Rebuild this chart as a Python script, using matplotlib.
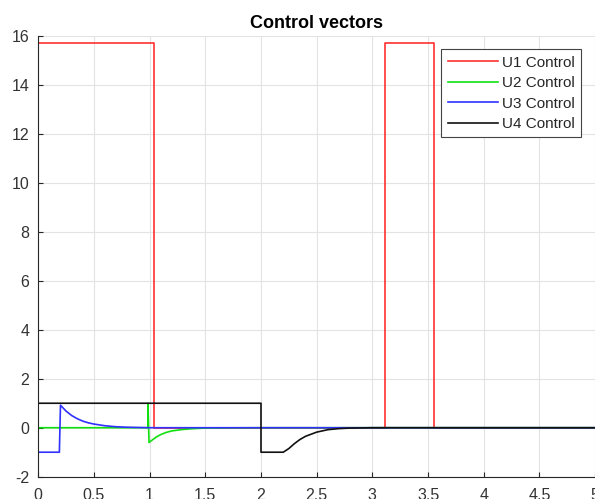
import matplotlib
matplotlib.use("Agg")
import matplotlib.pyplot as plt

plt.rcParams['font.family'] = ['Liberation Sans', 'DejaVu Sans']
plt.rcParams['axes.unicode_minus'] = False

# values
t_u1 = [0, 1.04, 1.04, 3.11, 3.11, 3.55, 3.55, 5]
u1 = [15.7, 15.7, 0, 0, 15.7, 15.7, 0, 0]

t_u2 = [0, 0.985, 0.985, 0.995, 1.03, 1.06, 1.1, 1.15, 1.2, 1.3, 1.4, 1.5, 1.7, 2.0, 5]
u2 = [0, 0, 1, -0.6, -0.48, -0.38, -0.28, -0.19, -0.13, -0.07, -0.035, -0.015, -0.005, 0, 0]

t_u3 = [0, 0.19, 0.2, 0.25, 0.3, 0.35, 0.4, 0.45, 0.5, 0.6, 0.7, 0.8, 0.9, 1.0, 5]
u3 = [-1, -1, 0.92, 0.68, 0.5, 0.37, 0.27, 0.2, 0.15, 0.08, 0.04, 0.02, 0.01, 0, 0]

t_u4 = [0, 2.0, 2.0, 2.2, 2.25, 2.3, 2.35, 2.4, 2.5, 2.6, 2.7, 2.8, 3.0, 5]
u4 = [1, 1, -1, -1, -0.85, -0.65, -0.48, -0.35, -0.18, -0.08, -0.035, -0.015, 0, 0]

labels = ['U1 Control', 'U2 Control', 'U3 Control', 'U4 Control']
xticks = [0, 0.5, 1, 1.5, 2, 2.5, 3, 3.5, 4, 4.5, 5]
yticks = [-2, 0, 2, 4, 6, 8, 10, 12, 14, 16]

dark = '#262626'

fig = plt.figure(figsize=(5.95, 4.99), dpi=100)
ax = fig.add_axes([0.0642, 0.0447, 0.9361, 0.8832])

ax.plot(t_u1, u1, color='#ff3030', lw=1.2, label=labels[0])
ax.plot(t_u2, u2, color='#10e010', lw=1.2, label=labels[1])
ax.plot(t_u3, u3, color='#3030ff', lw=1.2, label=labels[2])
ax.plot(t_u4, u4, color='#111111', lw=1.2, label=labels[3])

ax.set_xlim(0, 5)
ax.set_ylim(-2, 16)
ax.set_xticks(xticks)
ax.set_xticklabels(['0', '0.5', '1', '1.5', '2', '2.5', '3', '3.5', '4', '4.5', '5'])
ax.set_yticks(yticks)
ax.grid(True, color='#e3e3e3', lw=0.8)
ax.set_axisbelow(True)

for s in ['top', 'right']:
    ax.spines[s].set_visible(False)
for s in ['left', 'bottom']:
    ax.spines[s].set_color(dark)
    ax.spines[s].set_linewidth(0.8)

ax.tick_params(direction='in', length=3.6, width=0.8, color=dark,
               labelcolor='#333333', labelsize=11.5)
ax.tick_params(axis='x', pad=8)
ax.tick_params(axis='y', pad=6.5)

ax.set_title('Control vectors', fontsize=13, fontweight='bold', color='black', pad=6)

leg = ax.legend(loc='upper right', bbox_to_anchor=(0.974, 0.9698), borderaxespad=0,
                fontsize=11, fancybox=False, framealpha=1, edgecolor='#444444',
                handlelength=3.27, handletextpad=0.25, labelspacing=0.42,
                borderpad=0.42)
leg.get_frame().set_linewidth(0.8)
for txt in leg.get_texts():
    txt.set_color(dark)

fig.savefig('out.png', dpi=100)
